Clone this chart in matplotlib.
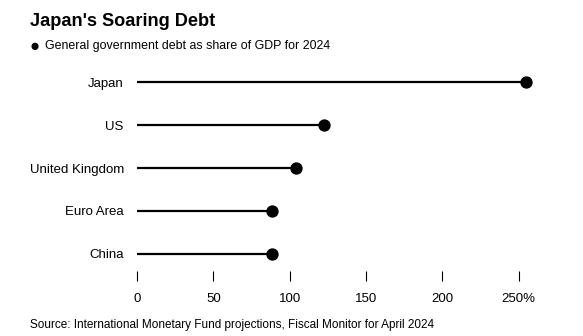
import matplotlib.pyplot as plt

plt.rcParams['font.family'] = ['Liberation Sans', 'DejaVu Sans']

# general government debt, % of GDP, 2024
countries = ["Japan", "US", "United Kingdom", "Euro Area", "China"]
debt = [254.6, 122.6, 104.3, 88.5, 88.5]
xticks = [0, 50, 100, 150, 200, 250]
xlabels = ["0", "50", "100", "150", "200", "250%"]

W, H = 583, 336
fig = plt.figure(figsize=(W / 100, H / 100), dpi=100)
ax = fig.add_axes([137 / W, 1 - 271 / H, (534 - 137) / W, (271 - 65) / H])

ypos = list(range(len(countries)))[::-1]
for y, v in zip(ypos, debt):
    ax.plot([0, v], [y, y], color="black", lw=1.6, solid_capstyle="butt", zorder=2)
ax.scatter(debt, ypos, s=62, color="black", zorder=3)

ax.set_xlim(0, 260)
ax.set_ylim(-0.4, 4.4)
ax.set_yticks(ypos)
ax.set_yticklabels(countries, fontsize=9.5)
ax.set_xticks(xticks)
ax.set_xticklabels(xlabels, fontsize=9.5)
ax.tick_params(axis="y", length=0, pad=9.5)
ax.tick_params(axis="x", direction="out", length=7, width=0.8, pad=9)
for s in ax.spines.values():
    s.set_visible(False)

fig.text(30 / W, 1 - 22 / H, "Japan's Soaring Debt", fontsize=13.1, fontweight="bold",
         va="center", ha="left")
fig.text(30 / W, 1 - 46 / H, "\u25CF", fontsize=12, va="center", ha="left")
fig.text(45 / W, 1 - 46 / H, "General government debt as share of GDP for 2024",
         fontsize=8.9, va="center", ha="left")
fig.text(30 / W, 1 - 325 / H,
         "Source: International Monetary Fund projections, Fiscal Monitor for April 2024",
         fontsize=8.5, va="center", ha="left")

fig.savefig("out.png", dpi=100)
